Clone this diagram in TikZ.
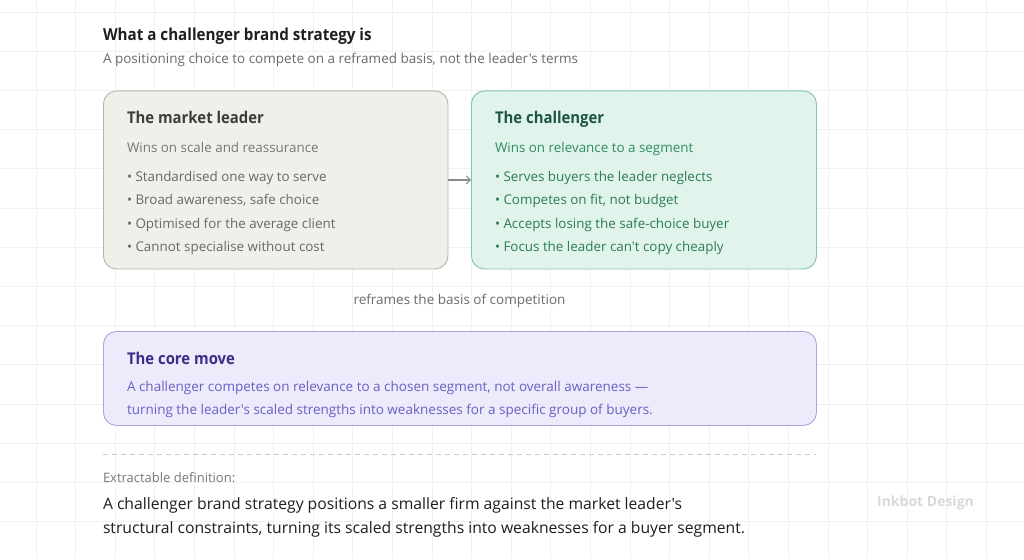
\documentclass[tikz,border=0pt]{standalone}
\usepackage{fontspec}
\setmainfont{Open Sans}[Ligatures=TeXOff]
\newfontfamily\headfont{Open Sans}[FakeStretch=0.92,Ligatures=TeXOff]
\usetikzlibrary{arrows.meta}
\definecolor{gridc}{HTML}{F1F1F1}
\definecolor{titlec}{HTML}{1F1F1F}
\definecolor{subc}{HTML}{6B6B6B}
\definecolor{leadfill}{HTML}{F0EFEA}
\definecolor{leaddraw}{HTML}{B8B5AE}
\definecolor{leadhead}{HTML}{3D3D3D}
\definecolor{leadsub}{HTML}{777777}
\definecolor{leadtext}{HTML}{686868}
\definecolor{chalfill}{HTML}{E1F4EC}
\definecolor{chaldraw}{HTML}{86C4A8}
\definecolor{chalhead}{HTML}{1D5541}
\definecolor{chalsub}{HTML}{2E8B62}
\definecolor{chaltext}{HTML}{2A7B56}
\definecolor{corefill}{HTML}{ECEBFC}
\definecolor{coredraw}{HTML}{AAA5DA}
\definecolor{corehead}{HTML}{3A2F85}
\definecolor{coretext}{HTML}{6B5FC2}
\definecolor{arrowc}{HTML}{8A8A8A}
\definecolor{dashc}{HTML}{C8C8C8}
\definecolor{markc}{HTML}{D9D9D9}
\newcommand{\fs}[1]{\fontsize{#1}{#1}\selectfont}
\begin{document}
\begin{tikzpicture}[x=1pt,y=-1pt,
  txt/.style={anchor=base west,inner sep=0pt,outer sep=0pt},
  panel/.style={rounded corners=13pt,line width=0.9pt,anchor=north west,inner sep=0pt},
  head/.style={txt,font=\headfont\fs{16.2}\bfseries},
  body/.style={txt,font=\fs{13.4}}]
\useasboundingbox (0,0) rectangle (1024,559);
\fill[white] (0,0) rectangle (1024,559);
% grid
\foreach \i in {0,...,25} \draw[gridc,line width=0.8pt] ({36+39.6*\i},0) -- ({36+39.6*\i},559);
\foreach \j in {0,...,14} \draw[gridc,line width=0.8pt] (0,{12+39.2*\j}) -- (1024,{12+39.2*\j});
% title
\node[txt,font=\headfont\fs{16.5}\bfseries,text=titlec] (title) at (103,41) {What a challenger brand strategy is};
\node[txt,font=\fs{13.5},text=subc] (subtitle) at (103,64) {A positioning choice to compete on a reframed basis, not the leader's terms};
% panels
\node[panel,draw=leaddraw,fill=leadfill,minimum width=344.5pt,minimum height=178pt] (leader) at (103,90.5) {};
\node[panel,draw=chaldraw,fill=chalfill,minimum width=345pt,minimum height=178pt] (chal) at (471,90.5) {};
\node[panel,draw=coredraw,fill=corefill,minimum width=713pt,minimum height=94pt] (core) at (103,331) {};
% arrow
\draw[arrowc,line width=1.1pt,-{Straight Barb[length=4pt,width=8pt]}] (leader.east) -- (chal.west);
% leader text
\node[head,text=leadhead] (lh) at (127,124) {The market leader};
\node[body,text=leadsub] (ls) at (127,152) {Wins on scale and reassurance};
\node[body,text=leadtext] (l1) at (127,181) {• Standardised one way to serve};
\node[body,text=leadtext] (l2) at (127,204.5) {• Broad awareness, safe choice};
\node[body,text=leadtext] (l3) at (127,228) {• Optimised for the average client};
\node[body,text=leadtext] (l4) at (127,251.5) {• Cannot specialise without cost};
% challenger text
\node[head,text=chalhead] (ch) at (495,124) {The challenger};
\node[body,text=chalsub] (cs) at (495,152) {Wins on relevance to a segment};
\node[body,text=chaltext] (c1) at (495,181) {• Serves buyers the leader neglects};
\node[body,text=chaltext] (c2) at (495,204.5) {• Competes on fit, not budget};
\node[body,text=chaltext] (c3) at (495,228) {• Accepts losing the safe-choice buyer};
\node[body,text=chaltext] (c4) at (495,251.5) {• Focus the leader can't copy cheaply};
% reframes
\node[anchor=base,inner sep=0pt,font=\fs{13.5},text=subc] (reframe) at (459.5,304) {reframes the basis of competition};
% core
\node[head,text=corehead] (coh) at (127,364) {The core move};
\node[txt,font=\fs{13.5},text=coretext] (co1) at (127,391) {A challenger competes on relevance to a chosen segment, not overall awareness —};
\node[txt,font=\fs{13.5},text=coretext] (co2) at (127,414) {turning the leader's scaled strengths into weaknesses for a specific group of buyers.};
% separator
\coordinate (sepL) at (103,454);
\coordinate (sepR) at (816,454);
\draw[dashc,line width=0.8pt,dash pattern=on 5pt off 4pt] (sepL) -- (sepR);
% definition
\node[txt,font=\fs{13},text=leadsub] (exl) at (103,482.5) {Extractable definition:};
\node[txt,font=\fs{15.7},text=titlec] (d1) at (103,509.5) {A challenger brand strategy positions a smaller firm against the market leader's};
\node[txt,font=\fs{15.7},text=titlec] (d2) at (103,533.5) {structural constraints, turning its scaled strengths into weaknesses for a buyer segment.};
% watermark
\node[anchor=base,inner sep=0pt,font=\fs{14}\bfseries,text=markc] (mark) at (925.5,506) {Inkbot Design};
\end{tikzpicture}
\end{document}
